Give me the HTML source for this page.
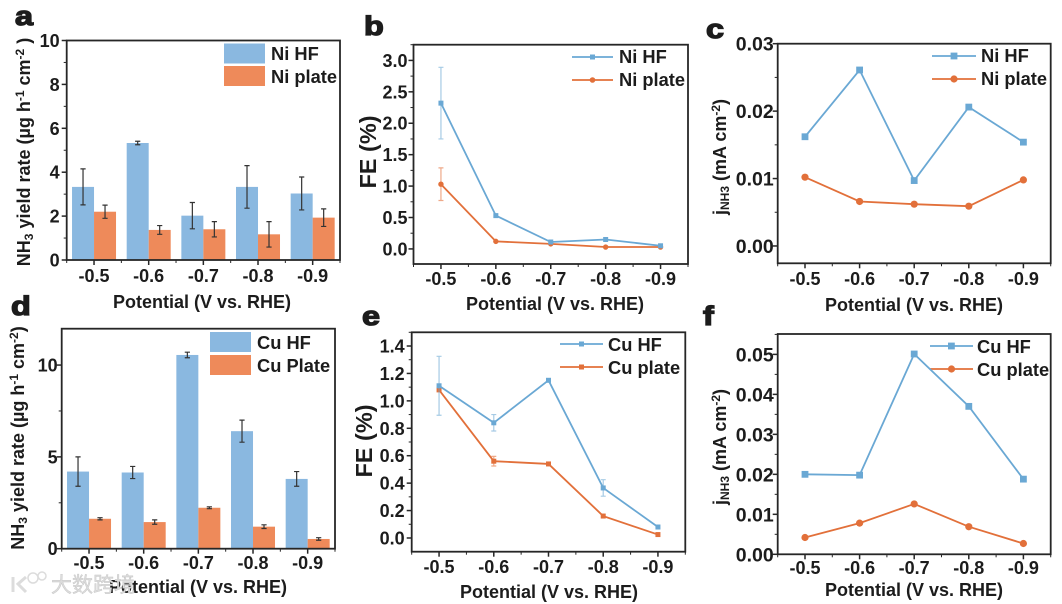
<!DOCTYPE html>
<html lang="en">
<head>
<meta charset="utf-8">
<title>NH3 yield, FE and partial current density</title>
<style>
html,body{margin:0;padding:0;background:#fff;width:1062px;height:604px;overflow:hidden}
svg{display:block;filter:blur(.35px)}
text{font-family:"Liberation Sans","Noto Sans CJK SC",sans-serif;font-weight:700;fill:#1c1c1c}
.tick{font-size:18px}
.title{font-size:18px;text-anchor:middle}
.legend{font-size:18.3px}
.fe{font-size:23.5px;text-anchor:middle}
.letter{font-size:27px;stroke:#1c1c1c;stroke-width:1.3px}
.wm{font-size:21px;fill:#dcdcdc;stroke:#c4c4c4;stroke-width:.4px;font-weight:400}
</style>
</head>
<body>
<svg id="figure" width="1062" height="604" viewBox="0 0 1062 604" xmlns="http://www.w3.org/2000/svg">
  <rect width="1062" height="604" fill="#fff"/>

  <g id="panel-a">
    <text class="letter" transform="translate(15,25) scale(1.2,1)">a</text>
    <text class="title" x="202" y="308">Potential (V vs. RHE)</text>
    <text class="title" transform="translate(30,152) rotate(-90)">NH<tspan font-size="12" dy="3">3</tspan><tspan dy="-3"> yield rate (µg h</tspan><tspan font-size="12" dy="-6">-1</tspan><tspan dy="6"> cm</tspan><tspan font-size="12" dy="-6">-2</tspan><tspan dy="6"> )</tspan></text>
    <rect x="224" y="43.5" width="41" height="20" fill="#8ab8e0"/>
    <rect x="224" y="66" width="41" height="20" fill="#ee8a5a"/>
    <text class="legend" x="271" y="60">Ni HF</text>
    <text class="legend" x="271" y="83">Ni plate</text>
  </g>

  <g id="panel-b">
    <text class="letter" transform="translate(364,35) scale(1.2,1)">b</text>
    <text class="title" x="555" y="310">Potential (V vs. RHE)</text>
    <text class="fe" transform="translate(376,152) rotate(-90)">FE (%)</text>
    <line x1="572" x2="613" y1="57" y2="57" stroke="#6aa8d4" stroke-width="1.8"/>
    <rect x="590" y="54.5" width="5" height="5" fill="#6aa8d4"/>
    <line x1="572" x2="613" y1="80" y2="80" stroke="#e2703a" stroke-width="1.8"/>
    <circle cx="592.5" cy="80" r="2.8" fill="#e2703a"/>
    <text class="legend" x="619" y="63">Ni HF</text>
    <text class="legend" x="619" y="86">Ni plate</text>
  </g>

  <g id="panel-c">
    <text class="letter" transform="translate(706,38) scale(1.2,1)">c</text>
    <text class="title" x="914" y="311">Potential (V vs. RHE)</text>
    <text class="title" transform="translate(726,157) rotate(-90)">j<tspan font-size="12" dy="3">NH3</tspan><tspan dy="-3"> (mA cm</tspan><tspan font-size="12" dy="-6">-2</tspan><tspan dy="6">)</tspan></text>
    <line x1="932" x2="976" y1="56" y2="56" stroke="#6aa8d4" stroke-width="1.8"/>
    <rect x="950.6" y="52.6" width="6.8" height="6.8" fill="#6aa8d4"/>
    <line x1="932" x2="976" y1="79" y2="79" stroke="#e2703a" stroke-width="1.8"/>
    <circle cx="954" cy="79" r="3.6" fill="#e2703a"/>
    <text class="legend" x="981" y="62">Ni HF</text>
    <text class="legend" x="981" y="85">Ni plate</text>
  </g>

  <g id="panel-d">
    <text class="letter" transform="translate(11,315) scale(1.2,1)">d</text>
    <text class="title" x="198" y="593">Potential (V vs. RHE)</text>
    <text class="title" transform="translate(24,438) rotate(-90)">NH<tspan font-size="12" dy="3">3</tspan><tspan dy="-3"> yield rate (µg h</tspan><tspan font-size="12" dy="-6">-1</tspan><tspan dy="6"> cm</tspan><tspan font-size="12" dy="-6">-2</tspan><tspan dy="6">)</tspan></text>
    <rect x="210" y="332" width="41" height="20" fill="#8ab8e0"/>
    <rect x="210" y="355" width="41" height="20" fill="#ee8a5a"/>
    <text class="legend" x="257" y="349">Cu HF</text>
    <text class="legend" x="257" y="372">Cu Plate</text>
  </g>

  <g id="panel-e">
    <text class="letter" transform="translate(362,325) scale(1.2,1)">e</text>
    <text class="title" x="549" y="598">Potential (V vs. RHE)</text>
    <text class="fe" transform="translate(372,441) rotate(-90)">FE (%)</text>
    <line x1="560" x2="603" y1="344" y2="344" stroke="#6aa8d4" stroke-width="1.8"/>
    <rect x="579" y="341.5" width="5" height="5" fill="#6aa8d4"/>
    <line x1="560" x2="603" y1="367" y2="367" stroke="#e2703a" stroke-width="1.8"/>
    <rect x="579" y="364.5" width="5" height="5" fill="#e2703a"/>
    <text class="legend" x="608" y="351">Cu HF</text>
    <text class="legend" x="608" y="374">Cu plate</text>
  </g>

  <g id="panel-f">
    <text class="letter" transform="translate(703,325) scale(1.2,1)">f</text>
    <text class="title" x="914" y="596">Potential (V vs. RHE)</text>
    <text class="title" transform="translate(726,447) rotate(-90)">j<tspan font-size="12" dy="3">NH3</tspan><tspan dy="-3"> (mA cm</tspan><tspan font-size="12" dy="-6">-2</tspan><tspan dy="6">)</tspan></text>
    <line x1="930" x2="973" y1="346" y2="346" stroke="#6aa8d4" stroke-width="1.8"/>
    <rect x="948" y="342.6" width="6.8" height="6.8" fill="#6aa8d4"/>
    <line x1="930" x2="973" y1="369" y2="369" stroke="#e2703a" stroke-width="1.8"/>
    <circle cx="951.5" cy="369" r="3.6" fill="#e2703a"/>
    <text class="legend" x="977" y="353">Cu HF</text>
    <text class="legend" x="977" y="376">Cu plate</text>
  </g>

  <g id="watermark">
    <path d="M13 577v15M26 577l-8 7 8 8" fill="none" stroke="#dcdcdc" stroke-width="3"/>
    <circle cx="33" cy="578" r="5" fill="none" stroke="#dcdcdc" stroke-width="1.5"/>
    <circle cx="42" cy="576" r="4" fill="none" stroke="#dcdcdc" stroke-width="1.5"/>
    <text class="wm" x="51" y="592">大数跨境</text>
  </g>
</svg>

<script>
// Shared categories
const categories = ['-0.5', '-0.6', '-0.7', '-0.8', '-0.9'];

// Panel a: Ni yield rate
const aNiHf = [3.33, 5.33, 2.02, 3.33, 3.03];
const aNiHfErr = [0.82, 0.08, 0.6, 0.97, 0.75];
const aNiPlate = [2.2, 1.37, 1.4, 1.17, 1.93];
const aNiPlateErr = [0.3, 0.2, 0.35, 0.58, 0.4];
const aTicks = ['0', '2', '4', '6', '8', '10'];

// Panel b: Ni FE
const bNiHf = [2.32, 0.53, 0.11, 0.15, 0.05];
const bNiHfErr = [0.57, 0, 0, 0, 0];
const bNiPlate = [1.03, 0.12, 0.08, 0.03, 0.03];
const bNiPlateErr = [0.26, 0, 0, 0, 0];
const bTicks = ['0.0', '0.5', '1.0', '1.5', '2.0', '2.5', '3.0'];

// Panel c: Ni partial current density
const cNiHf = [0.0162, 0.0261, 0.0097, 0.0206, 0.0154];
const cNiPlate = [0.0102, 0.0066, 0.0062, 0.0059, 0.0098];
const cTicks = ['0.00', '0.01', '0.02', '0.03'];

// Panel d: Cu yield rate
const dCuHf = [4.2, 4.15, 10.55, 6.4, 3.8];
const dCuHfErr = [0.8, 0.33, 0.15, 0.6, 0.4];
const dCuPlate = [1.63, 1.45, 2.23, 1.2, 0.53];
const dCuPlateErr = [0.06, 0.12, 0.05, 0.1, 0.07];
const dTicks = ['0', '5', '10'];

// Panel e: Cu FE
const eCuHf = [1.11, 0.84, 1.15, 0.365, 0.08];
const eCuHfErr = [0.215, 0.06, 0, 0.06, 0];
const eCuPlate = [1.08, 0.56, 0.54, 0.16, 0.025];
const eCuPlateErr = [0, 0.035, 0, 0, 0];
const eTicks = ['0.0', '0.2', '0.4', '0.6', '0.8', '1.0', '1.2', '1.4'];

// Panel f: Cu partial current density
const fCuHf = [0.02, 0.0198, 0.0501, 0.037, 0.0188];
const fCuPlate = [0.0042, 0.0078, 0.0126, 0.0069, 0.0027];
const fTicks = ['0.00', '0.01', '0.02', '0.03', '0.04', '0.05'];

const SVG_NS = 'http://www.w3.org/2000/svg';
const BLUE_BAR = '#8ab8e0', ORANGE_BAR = '#ee8a5a';
const BLUE_LINE = '#6aa8d4', ORANGE_LINE = '#e2703a';
const INK = '#262626';

function make(parent, tag, attrs) {
  const el = document.createElementNS(SVG_NS, tag);
  for (const k in attrs) el.setAttribute(k, attrs[k]);
  parent.appendChild(el);
  return el;
}

function scales(box) {
  return {
    x: function (i) { return box.left + (i + 0.5) * (box.right - box.left) / categories.length; },
    y: function (v) { return box.bottom - (v - box.yMin) * (box.bottom - box.top) / (box.yMax - box.yMin); }
  };
}

function drawAxes(group, box, s, ticks, labelY) {
  // major and minor y ticks
  const nums = ticks.map(Number);
  const step = nums[1] - nums[0];
  const yFont = box.yFont || 18;
  const gap = box.yGap || 7;
  for (let i = 0; i < nums.length; i++) {
    const py = s.y(nums[i]);
    const t = make(group, 'line', { x1: box.left - 5, x2: box.left, y1: py, y2: py, stroke: INK, 'stroke-width': 1.5 });
    
    
    const lab = make(group, 'text', { class: 'tick', x: box.left - gap, y: py + yFont * 0.36, 'text-anchor': 'end', 'font-size': yFont, style: 'font-size:' + yFont + 'px' });
    lab.textContent = ticks[i];
    
    
    const mv = nums[i] + step / 2;
    if (mv <= box.yMax) {
      const m = make(group, 'line', { x1: box.left - 3, x2: box.left, y1: s.y(mv), y2: s.y(mv), stroke: INK, 'stroke-width': 1 });
      
      
    }
  }
  // x ticks
  for (let i = 0; i < categories.length; i++) {
    const px = s.x(i);
    const t = make(group, 'line', { x1: px, x2: px, y1: box.bottom, y2: box.bottom + 5, stroke: INK, 'stroke-width': 1.5 });
    
    
    const lab = make(group, 'text', { class: 'tick', x: px, y: labelY, 'text-anchor': 'middle' });
    lab.textContent = categories[i];
    
    
  }
  for (let i = 0; i <= categories.length; i++) {
    const px = s.x(i - 0.5);
    const m = make(group, 'line', { x1: px, x2: px, y1: box.bottom, y2: box.bottom + 3, stroke: INK, 'stroke-width': 1 });
    
    
  }
}

function drawFrame(group, box) {
  const f = make(group, 'rect', {
    x: box.left, y: box.top, width: box.right - box.left, height: box.bottom - box.top,
    fill: 'none', stroke: INK, 'stroke-width': 1.8
  });
  
  
}

function drawErr(group, px, s, v, e, color, cap, width) {
  if (!e) return;
  const hi = s.y(v + e), lo = s.y(v - e);
  const d = 'M' + px + ' ' + hi + 'V' + lo + 'M' + (px - cap) + ' ' + hi + 'H' + (px + cap) + 'M' + (px - cap) + ' ' + lo + 'H' + (px + cap);
  const el = make(group, 'path', { d: d, fill: 'none', stroke: color, 'stroke-width': width });
  
  
}

function drawBars(id, box, ticks, labelY, hf, hfErr, plate, plateErr) {
  const group = document.getElementById(id);
  const s = scales(box);
  const w = 22;
  for (let i = 0; i < categories.length; i++) {
    const c = s.x(i);
    const b0 = s.y(0);
    const a = make(group, 'rect', { x: c - w, y: s.y(hf[i]), width: w, height: b0 - s.y(hf[i]), fill: BLUE_BAR });
    
    
    const p = make(group, 'rect', { x: c, y: s.y(plate[i]), width: w, height: b0 - s.y(plate[i]), fill: ORANGE_BAR });
    
    
    drawErr(group, c - w / 2, s, hf[i], hfErr[i], '#333', 2.6, 1.2);
    drawErr(group, c + w / 2, s, plate[i], plateErr[i], '#333', 2.6, 1.2);
  }
  drawFrame(group, box);
  drawAxes(group, box, s, ticks, labelY);
}

function drawSeries(group, s, vals, errs, color, shape, size, name) {
  if (errs) {
    for (let i = 0; i < vals.length; i++) drawErr(group, s.x(i), s, vals[i], errs[i], color + '99', 2.5, 1.2);
  }
  const pts = vals.map(function (v, i) { return s.x(i) + ',' + s.y(v); }).join(' ');
  const line = make(group, 'polyline', { points: pts, fill: 'none', stroke: color, 'stroke-width': 1.8 });
  
  
  for (let i = 0; i < vals.length; i++) {
    const px = s.x(i), py = s.y(vals[i]);
    const attrs = shape === 'square'
      ? { x: px - size, y: py - size, width: size * 2, height: size * 2, fill: color }
      : { cx: px, cy: py, r: size + 0.2, fill: color };
    const m = make(group, shape === 'square' ? 'rect' : 'circle', attrs);
    
    
  }
}

function drawLines(id, box, ticks, labelY, hf, hfErr, plate, plateErr, plateShape, size) {
  const group = document.getElementById(id);
  const s = scales(box);
  drawFrame(group, box);
  drawAxes(group, box, s, ticks, labelY);
  drawSeries(group, s, plate, plateErr, ORANGE_LINE, plateShape, size, 'plate');
  drawSeries(group, s, hf, hfErr, BLUE_LINE, 'square', size, 'hf');
}

drawBars('panel-a', { left: 66.7, right: 340, top: 40.5, bottom: 260, yMin: 0, yMax: 10, yGap: 7 }, aTicks, 282, aNiHf, aNiHfErr, aNiPlate, aNiPlateErr);
drawLines('panel-b', { left: 413.5, right: 688, top: 44.7, bottom: 264, yMin: -0.24, yMax: 3.25, yGap: 6 }, bTicks, 285, bNiHf, bNiHfErr, bNiPlate, bNiPlateErr, 'circle', 2.5);
drawLines('panel-c', { left: 777.7, right: 1050.7, top: 43.7, bottom: 263.3, yMin: -0.00257, yMax: 0.03, yGap: 4, yFont: 19.5 }, cTicks, 285, cNiHf, null, cNiPlate, null, 'circle', 3.4);
drawBars('panel-d', { left: 61.7, right: 335, top: 328.7, bottom: 548.7, yMin: 0, yMax: 11.98, yGap: 4 }, dTicks, 569, dCuHf, dCuHfErr, dCuPlate, dCuPlateErr);
drawLines('panel-e', { left: 411.7, right: 685.3, top: 332.3, bottom: 551.7, yMin: -0.1, yMax: 1.5, yGap: 7 }, eTicks, 573, eCuHf, eCuHfErr, eCuPlate, eCuPlateErr, 'square', 2.5);
drawLines('panel-f', { left: 777.7, right: 1050.7, top: 334, bottom: 554.3, yMin: 0, yMax: 0.0551, yGap: 4, yFont: 19.5 }, fTicks, 574, fCuHf, null, fCuPlate, null, 'circle', 3.4);
</script>
</body>
</html>
